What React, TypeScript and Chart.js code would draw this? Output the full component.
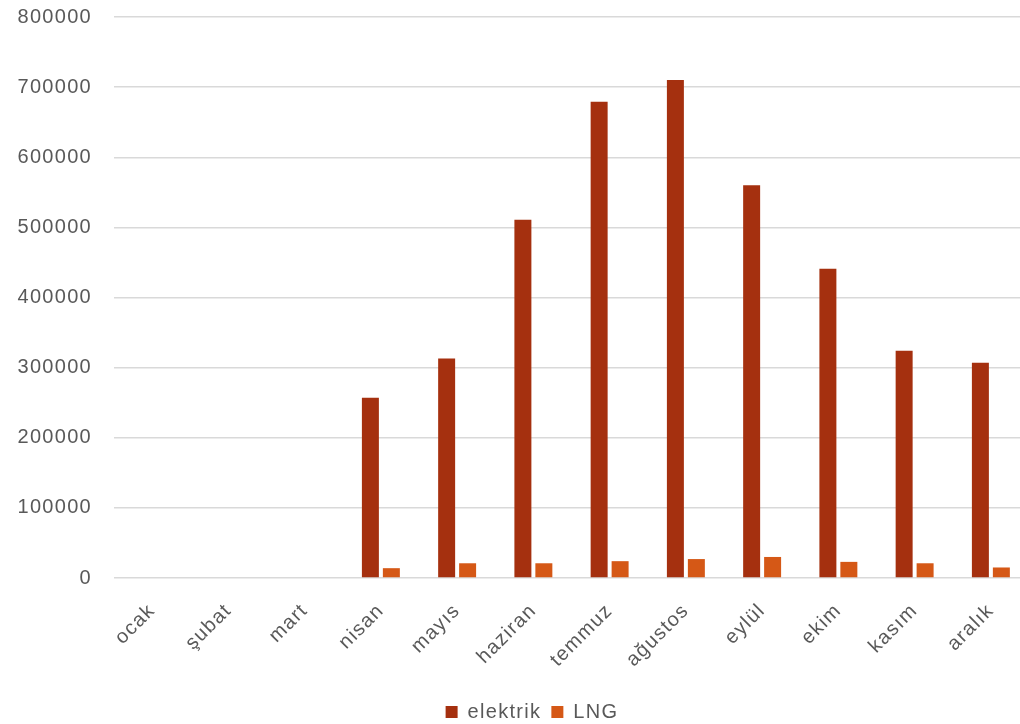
import React, { useEffect, useRef } from "react";
import { Chart, registerables } from "chart.js";

Chart.register(...registerables);

const categories = ["ocak", "şubat", "mart", "nisan", "mayıs", "haziran", "temmuz", "ağustos", "eylül", "ekim", "kasım", "aralık"];
const elektrik = [null, null, null, 257000, 313000, 511000, 679000, 710000, 560000, 441000, 324000, 307000];
const lng = [null, null, null, 14000, 21000, 21000, 24000, 27000, 30000, 23000, 21000, 15000];
const yMin = 0;
const yMax = 800000;
const yStep = 100000;

const spacingPlugin = {
  id: "spacing",
  beforeUpdate(chart: any) {
    chart.ctx.letterSpacing = "1.3px";
  },
  afterLayout(chart: any) {
    const lg = chart.legend;
    if (lg) {
      lg.left += 17.5;
      lg.right += 17.5;
    }
  },
  beforeDraw(chart: any) {
    chart.ctx.letterSpacing = "1.3px";
  },
};

export default function App() {
  const ref = useRef<HTMLCanvasElement | null>(null);
  useEffect(() => {
    document.body.style.margin = "0";
    document.body.style.overflow = "hidden";
    const canvas = ref.current!;
    const ctx = canvas.getContext("2d") as any;
    ctx.letterSpacing = "1.3px";
    const font = { family: "'Liberation Sans', Arial, sans-serif", size: 20 };
    const chart = new Chart(canvas, {
      type: "bar",
      data: {
        labels: categories,
        datasets: [
          { label: "elektrik", data: elektrik as any, backgroundColor: "#A5300F", categoryPercentage: 0.55, barPercentage: 0.81 },
          { label: "LNG", data: lng as any, backgroundColor: "#D55816", categoryPercentage: 0.55, barPercentage: 0.81 },
        ],
      },
      plugins: [spacingPlugin],
      options: {
        animation: false,
        responsive: false,
        maintainAspectRatio: false,
        layout: { padding: { left: 0, right: 0, top: 17, bottom: 0 } },
        plugins: {
          legend: {
            position: "bottom",
            labels: { boxWidth: 12, boxHeight: 12, padding: 10, color: "#595959", font },
          },
          tooltip: { enabled: false },
        },
        scales: {
          x: {
            grid: { display: false },
            border: { display: false },
            ticks: { color: "#595959", font, minRotation: 45, maxRotation: 45, padding: 13 },
            afterFit(scale: any) {
              scale.height = 114;
              scale.paddingTop = 0;
              scale.paddingBottom = 0;
              scale.paddingLeft = 0;
              scale.paddingRight = 0;
            },
          },
          y: {
            min: yMin,
            max: yMax,
            ticks: { stepSize: yStep, color: "#595959", font, padding: 22, callback: (v: any) => String(v) },
            grid: { color: "#d9d9d9", lineWidth: 1.5, drawTicks: false },
            border: { display: false },
            afterFit(scale: any) {
              scale.width = 114;
              scale.paddingTop = 0;
              scale.paddingBottom = 0;
            },
          },
        },
      },
    });
    return () => chart.destroy();
  }, []);
  return (
    <div style={{ width: 1029, height: 732, overflow: "hidden" }}>
      <canvas ref={ref} width={1029} height={732} style={{ display: "block" }} />
    </div>
  );
}
